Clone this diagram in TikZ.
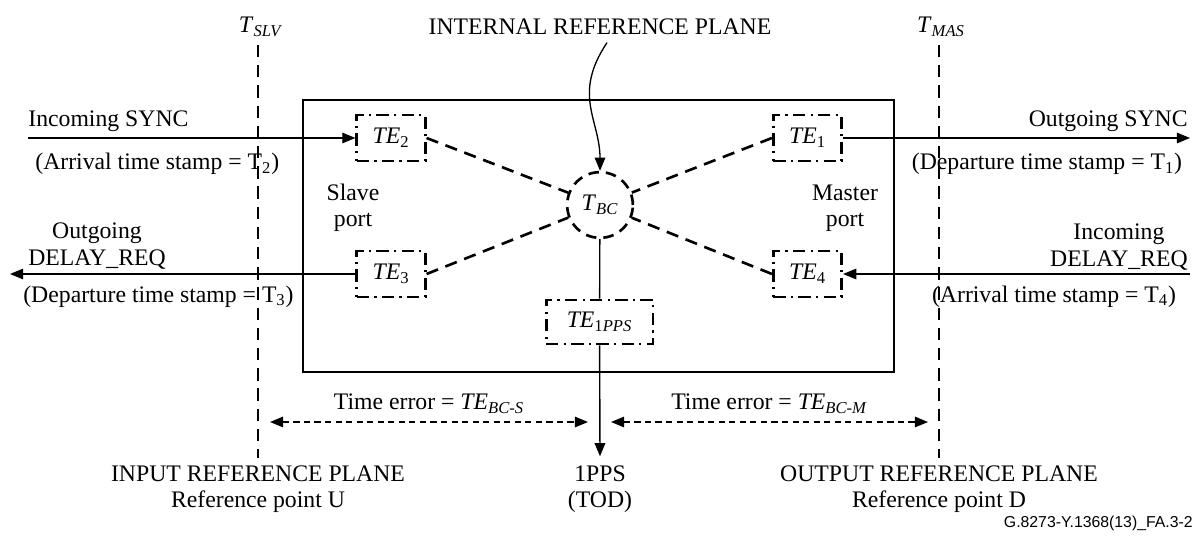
\documentclass[tikz,border=0pt]{standalone}
\usepackage{fontspec}
\setmainfont{Liberation Serif}
\newfontfamily\codefont{Liberation Sans}
\usepackage{tikz}
\usetikzlibrary{arrows.meta,positioning,calc}

\begin{document}
\begin{tikzpicture}[x=0.02cm,y=-0.02cm,>={Triangle[length=7.5pt,width=6pt]},
   every node/.style={font=\fontsize{13.5}{15}\selectfont,inner sep=0pt},
   tebox/.style={draw,line width=1.5pt,dash pattern=on 7pt off 3pt on 1.3pt off 3pt,minimum width=39pt,minimum height=26pt},
   clk/.style={draw,circle,line width=1.5pt,dash pattern=on 6pt off 4pt,minimum size=37.4pt},
   link/.style={line width=1.5pt,dash pattern=on 7pt off 4.5pt},
   plane/.style={line width=1.6pt,dash pattern=on 7pt off 4.5pt},
   msg/.style={->,line width=0.8pt},
   err/.style={<->,line width=0.8pt,dash pattern=on 3.5pt off 2.5pt}]
  \useasboundingbox (0,0) rectangle (1199,540);
  \draw[line width=0.75pt] (303,100) rectangle (894,372);
  \node[clk] (tbc) at (600,205) {\textit{T}\textsubscript{\textit{BC}}};
  \node[tebox] (te2) at (391,138) {\textit{TE}\textsubscript{2}};
  \node[tebox] (te3) at (391,274) {\textit{TE}\textsubscript{3}};
  \node[tebox] (te1) at (807.5,138) {\textit{TE}\textsubscript{1}};
  \node[tebox] (te4) at (807.5,274) {\textit{TE}\textsubscript{4}};
  \node[tebox,minimum width=60.7pt,minimum height=25pt] (tpps) at (599.5,322) {\textit{TE}\textsubscript{1\textit{PPS}}};
  \node[align=center] (slave) at (353,208) {Slave\\port};
  \node[align=center] (master) at (845,208) {Master\\port};
  \draw[link] (te2.east) -- (tbc);
  \draw[link] (te3.east) -- (tbc);
  \draw[link] (te1.west) -- (tbc);
  \draw[link] (te4.west) -- (tbc);
  \draw[line width=0.75pt] (tbc) -- (tpps);

  \coordinate (slvtop) at (258,45);
  \coordinate (slvbot) at (258,458);
  \coordinate (mastop) at (939,45);
  \coordinate (masbot) at (939,458);
  \draw[plane] (slvtop) -- (slvbot);
  \draw[plane] (mastop) -- (masbot);
  \node[anchor=base] (tslv) at (261,33) {\textit{T}\textsubscript{\textit{SLV}}};
  \node[anchor=base] (tmas) at (941,33) {\textit{T}\textsubscript{\textit{MAS}}};

  \node[anchor=base] (irp) at (600,35) {INTERNAL REFERENCE PLANE};
  \draw[msg,line width=0.75pt] ([xshift=4pt,yshift=-4pt]irp.south) .. controls (572,95) and (600,120) .. (tbc.north);

  \coordinate (insync) at (28,138);
  \coordinate (outsync) at (1190,138);
  \coordinate (outdel) at (10,274);
  \coordinate (indel) at (1190,274);
  \draw[msg] (insync) -- (te2);
  \draw[msg] (te1) -- (outsync);
  \draw[msg] (te3) -- (outdel);
  \draw[msg] (indel) -- (te4);
  \node[anchor=base west] (insynctxt) at (28,127) {Incoming SYNC};
  \node[anchor=base west] (t2txt) at (35,170) {(Arrival time stamp = T\textsubscript{2})};
  \node[align=center] (outdeltxt) at (97,246) {Outgoing\\DELAY\_REQ};
  \node[anchor=base west] (t3txt) at (23,302) {(Departure time stamp = T\textsubscript{3})};
  \node[anchor=base east] (outsynctxt) at (1188,127) {Outgoing SYNC};
  \node[anchor=base] (t1txt) at (1047,170) {(Departure time stamp = T\textsubscript{1})};
  \node[align=center,anchor=east] (indeltxt) at (1188,247) {Incoming\\DELAY\_REQ};
  \node[anchor=base] (t4txt) at (1054,302) {(Arrival time stamp = T\textsubscript{4})};

  \node[align=center] (pps) at (600,489) {1PPS\\(TOD)};
  \draw[msg] (tpps) -- ([yshift=5pt]pps.north);
  \coordinate (errl) at (270,422);
  \coordinate (errm1) at (588,422);
  \coordinate (errm2) at (611,422);
  \coordinate (errr) at (928,422);
  \draw[err] (errl) -- node[midway,anchor=base,yshift=7pt] (errs) {Time error = \textit{TE}\textsubscript{\textit{BC-S}}} (errm1);
  \draw[err] (errm2) -- node[midway,anchor=base,yshift=7pt] (errm) {Time error = \textit{TE}\textsubscript{\textit{BC-M}}} (errr);
  \node[align=center] (inref) at (258,489) {INPUT REFERENCE PLANE\\Reference point U};
  \node[align=center] (outref) at (939,489) {OUTPUT REFERENCE PLANE\\Reference point D};
  \node[anchor=base east,font=\codefont\fontsize{9}{10}\selectfont] (figcode) at (1193,527) {G.8273-Y.1368(13)\_FA.3-2};
\end{tikzpicture}
\end{document}
